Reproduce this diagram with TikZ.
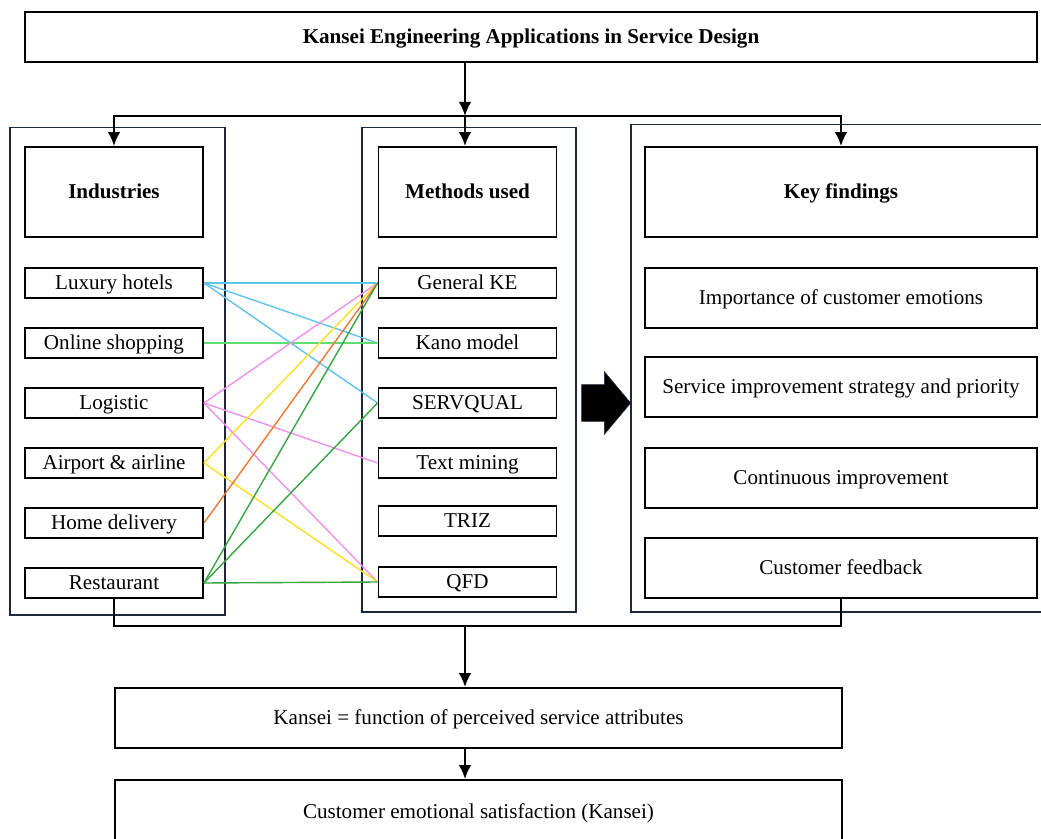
\documentclass[tikz,border=0pt]{standalone}
\usepackage{fontspec}
\setmainfont{Liberation Serif}
\usepackage{xcolor}
\usepackage{tikz}
\usetikzlibrary{arrows,arrows.meta,shapes}
\definecolor{framecol}{RGB}{30,40,60}
\definecolor{skyline}{RGB}{95,195,235}
\definecolor{mintline}{RGB}{95,220,115}
\definecolor{pinkline}{RGB}{240,145,235}
\definecolor{yellowline}{RGB}{250,225,35}
\definecolor{orangeline}{RGB}{240,120,50}
\definecolor{leafline}{RGB}{55,165,65}

\begin{document}
\begin{tikzpicture}[x=0.025cm,y=-0.025cm,font=\fontsize{15}{18}\selectfont,
	box/.style={draw,line width=1.3pt,minimum width=4.45cm,minimum height=0.75cm,inner sep=0pt,text depth=0.1em},
	headbox/.style={box,font=\fontsize{15}{18}\selectfont\bfseries,minimum height=2.25cm},
	widebox/.style={box,minimum width=9.8cm,minimum height=1.5cm},
	panel/.style={draw=framecol,line width=0.8pt,inner sep=0pt},
	flow/.style={line width=1.4pt,>={Latex[length=10pt,width=9pt]}}]
	\useasboundingbox (0,0) rectangle (1041,839);
	%
	\node[box,minimum width=25.3cm,minimum height=1.25cm,font=\fontsize{15}{18}\selectfont\bfseries] (title) at (531,37) {Kansei Engineering Applications in Service Design};
	%
	\node[panel,minimum width=5.375cm,minimum height=12.175cm] (indpanel) at (117.5,371.5) {};
	\node[panel,minimum width=5.35cm,minimum height=12.1cm] (methpanel) at (469,370) {};
	\node[panel,minimum width=10.4cm,minimum height=12.175cm] (keypanel) at (839,368.5) {};
	%
	\node[headbox] (ind) at (114,192) {Industries};
	\node[headbox] (meth) at (467.5,192) {Methods used};
	\node[headbox,minimum width=9.8cm] (key) at (841,192) {Key findings};
	%
	\node[box] (hotels) at (114,283) {Luxury hotels};
	\node[box] (shop) at (114,343) {Online shopping};
	\node[box] (logis) at (114,403) {Logistic};
	\node[box] (air) at (114,463) {Airport \& airline};
	\node[box] (home) at (114,523) {Home delivery};
	\node[box] (rest) at (114,583) {Restaurant};
	%
	\node[box] (gke) at (467.5,283) {General KE};
	\node[box] (kano) at (467.5,343) {Kano model};
	\node[box] (servq) at (467.5,403) {SERVQUAL};
	\node[box] (text) at (467.5,463) {Text mining};
	\node[box] (triz) at (467.5,521) {TRIZ};
	\node[box] (qfd) at (467.5,582) {QFD};
	%
	\node[widebox] (emo) at (841,298) {Importance of customer emotions};
	\node[widebox] (strat) at (841,387) {Service improvement strategy and priority};
	\node[widebox] (cont) at (841,478) {Continuous improvement};
	\node[widebox] (feed) at (841,568) {Customer feedback};
	%
	\node[single arrow,fill=black,draw=framecol,inner xsep=0pt,inner ysep=0.45cm,minimum height=1.225cm,
		single arrow head extend=0.325cm,single arrow tip angle=100,anchor=tip] (bigarrow) at (631,403) {};
	%
	\node[box,minimum width=18.175cm,minimum height=1.5cm] (kfun) at (478.5,718) {Kansei = function of perceived service attributes};
	\node[box,minimum width=18.175cm,minimum height=1.6cm] (ksat) at (478.5,812) {Customer emotional satisfaction (Kansei)};
	%
	\path[line width=1pt]
	(hotels.east) edge[skyline] (gke.west)
		edge[skyline] (kano.west)
		edge[skyline] (servq.west)
	(shop.east) edge[mintline] (kano.west)
	(logis.east) edge[pinkline] (gke.west)
		edge[pinkline] (text.west)
		edge[pinkline] (qfd.west)
	(air.east) edge[yellowline] (gke.west)
		edge[yellowline] (qfd.west)
	(home.east) edge[orangeline] (gke.west)
	(rest.east) edge[leafline] (gke.west)
		edge[leafline] (servq.west)
		edge[leafline] (qfd.west);
	%
	\coordinate (split) at (465,116);
	\coordinate (join) at (465,626);
	\draw[flow,->] (split |- title.south) -- (split);
	\draw[flow,->] (split) -| (ind.north);
	\draw[flow,->] (split) -| (key.north);
	\draw[flow,->] (split) -- (split |- meth.north);
	\draw[flow] (rest.south) |- (join) -| (feed.south);
	\draw[flow,->] (join) -- (join |- kfun.north);
	\draw[flow,->] (join |- kfun.south) -- (join |- ksat.north);
\end{tikzpicture}
\end{document}
